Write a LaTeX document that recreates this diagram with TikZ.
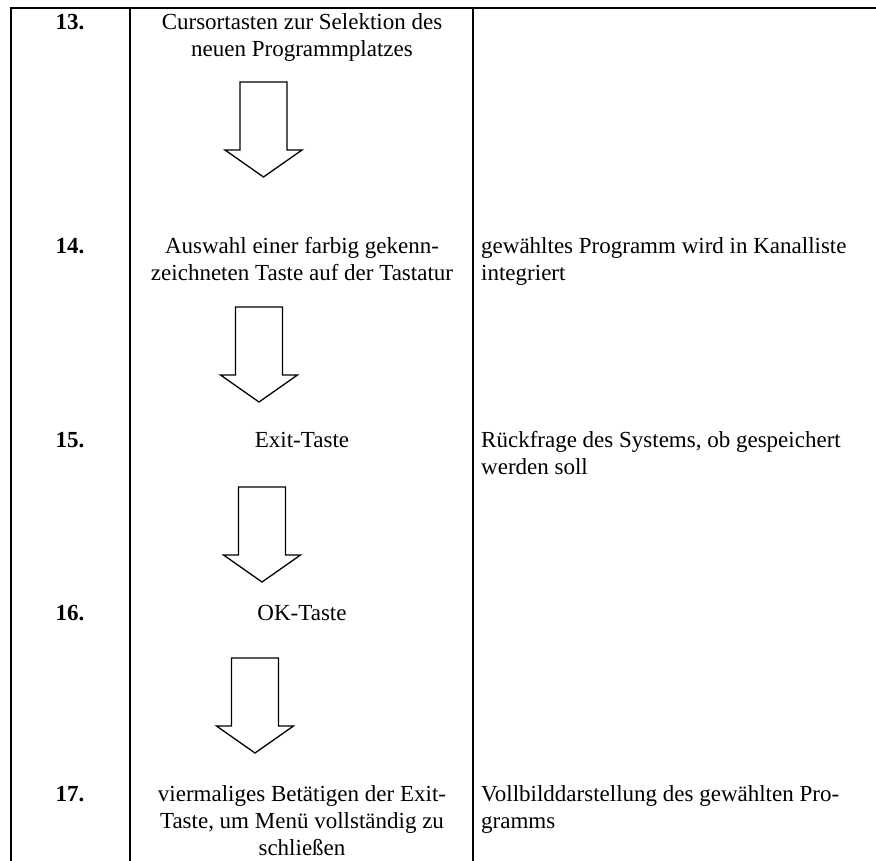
\documentclass[tikz,border=0pt]{standalone}
\usepackage{fontspec}
\setmainfont{Liberation Serif}
\newcommand\blockarr[2]{% cx, ytop
  \draw[blockarrow] (#1-23.5,#2) -- (#1+23.5,#2) -- (#1+23.5,#2+68) -- (#1+38.5,#2+68)
    -- (#1,#2+95) -- (#1-38.5,#2+68) -- (#1-23.5,#2+68) -- cycle;}
\tikzset{
  gridline/.style={line width=2pt, line cap=rect},
  blockarrow/.style={draw, line width=1.3pt, fill=white, line join=miter},
  txt/.style={inner sep=0pt, font=\fontsize{23}{27}\selectfont, anchor=base},
  num/.style={txt, font=\fontsize{23}{27}\selectfont\bfseries},
  ltxt/.style={txt, anchor=base west},
}
\begin{document}
\begin{tikzpicture}[x=1pt, y=-1pt]
\useasboundingbox (0,0) rectangle (876,861);
% table rules
\draw[gridline] (11,8) -- (876,8);
\draw[gridline] (11,8) -- (11,861);
\draw[gridline] (130,8) -- (130,861);
\draw[gridline] (473,8) -- (473,861);
% row 13
\node[num] (n13) at (70,30) {13.};
\node[txt] (a13) at (302,30) {Cursortasten zur Selektion des};
\node[txt] (b13) at (302,57) {neuen Programmplatzes};
\blockarr{263.5}{82}
% row 14
\node[num] (n14) at (70,254) {14.};
\node[txt] (a14) at (302,254) {Auswahl einer farbig gekenn-};
\node[txt] (b14) at (302,281) {zeichneten Taste auf der Tastatur};
\node[ltxt] (c14) at (481,254) {gewähltes Programm wird in Kanalliste};
\node[ltxt] (d14) at (481,281) {integriert};
\blockarr{259}{307}
% row 15
\node[num] (n15) at (70,447) {15.};
\node[txt] (a15) at (302,447) {Exit-Taste};
\node[ltxt] (c15) at (481,447) {Rückfrage des Systems, ob gespeichert};
\node[ltxt] (d15) at (481,474) {werden soll};
\blockarr{262}{487}
% row 16
\node[num] (n16) at (70,620) {16.};
\node[txt] (a16) at (302,620) {OK-Taste};
\blockarr{255}{658}
% row 17
\node[num] (n17) at (70,801) {17.};
\node[txt] (a17) at (302,801) {viermaliges Betätigen der Exit-};
\node[txt] (b17) at (302,828) {Taste, um Menü vollständig zu};
\node[txt] (e17) at (302,855) {schließen};
\node[ltxt] (c17) at (481,801) {Vollbilddarstellung des gewählten Pro-};
\node[ltxt] (d17) at (481,828) {gramms};
\end{tikzpicture}
\end{document}
